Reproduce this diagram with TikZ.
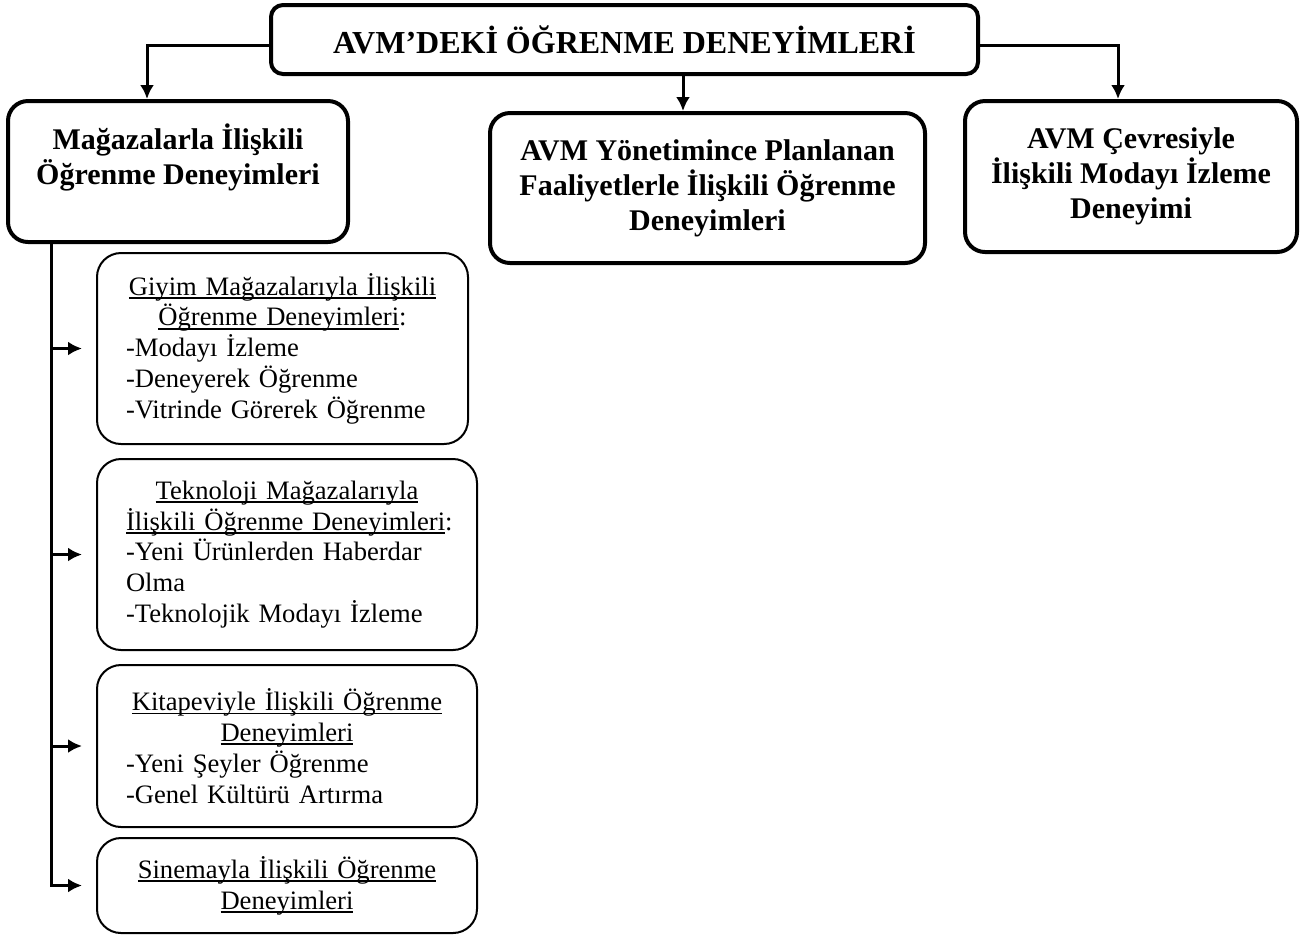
\documentclass[tikz,border=0pt]{standalone}
\usepackage{fontspec}
\setmainfont{Liberation Serif}
\usetikzlibrary{arrows.meta,positioning}
\newsavebox\ulbox
\newcommand{\undln}[1]{\leavevmode\sbox\ulbox{#1}\rlap{\rule[-1.9pt]{\wd\ulbox}{0.9pt}}\usebox\ulbox}

\begin{document}
\begin{tikzpicture}[
  x=0.5pt,
  y=-0.5pt,
  >=Latex,
  link/.style={
    line width=1.5pt,
    -{Latex[length=7pt,width=7pt]}
  },
  mainbox/.style={
    draw,
    line width=2pt,
    rounded corners=10pt,
    align=center,
    font=\bfseries\fontsize{15}{17.5}\selectfont
  },
  itembox/.style={
    draw,
    line width=1pt,
    rounded corners=12pt,
    align=left,
    inner xsep=14.5pt,
    inner ysep=0pt,
    text width=161pt,
    minimum height=#1,
    font=\fontsize{13.3}{15.4}\selectfont
  }
]
  \useasboundingbox (0,0) rectangle (1305,934);

  \node[draw,line width=2pt,rounded corners=6pt,minimum width=353.5pt,
    minimum height=34.5pt,font=\bfseries\fontsize{16}{19}\selectfont]
    (title) at (624.5,39.5) {AVM’DEKİ ÖĞRENME DENEYİMLERİ};

  \node[mainbox,minimum width=170pt,minimum height=70.5pt] (store) at (178,171.5)
    {Mağazalarla İlişkili\\Öğrenme Deneyimleri\\~};
  \node[mainbox,minimum width=217.5pt,minimum height=75pt] (mgmt) at (707.5,188)
    {AVM Yönetimince Planlanan\\Faaliyetlerle İlişkili Öğrenme\\Deneyimleri};
  \node[mainbox,minimum width=166pt,minimum height=75.5pt] (env) at (1131,176.5)
    {AVM Çevresiyle\\İlişkili Modayı İzleme\\Deneyimi};

  \node[itembox=95.5pt,text width=156.5pt] (giyim) at (282.5,348.5)
    {{\centering\undln{Giyim Mağazalarıyla İlişkili}\\\undln{Öğrenme Deneyimleri}:\par}
     -Modayı İzleme\\-Deneyerek Öğrenme\\-Vitrinde Görerek Öğrenme};
  \node[itembox=95.5pt] (tekno) at (287,554.5)
    {{\centering\undln{Teknoloji Mağazalarıyla}\\\undln{İlişkili Öğrenme Deneyimleri}:\par}
     -Yeni Ürünlerden Haberdar\\Olma\\-Teknolojik Modayı İzleme};
  \node[itembox=81pt] (kitap) at (287,746)
    {{\centering\undln{Kitapeviyle İlişkili Öğrenme}\\\undln{Deneyimleri}\par}
     -Yeni Şeyler Öğrenme\\-Genel Kültürü Artırma};
  \node[itembox=47.5pt] (sinema) at (287,885.5)
    {{\centering\undln{Sinemayla İlişkili Öğrenme}\\\undln{Deneyimleri}\par}};

  \draw[link] ([yshift=-3pt]title.west) -| ([xshift=-15.5pt]store.north);
  \draw[link] ([yshift=-3pt]title.east) -| ([xshift=-6.5pt]env.north);
  \draw[link] ([xshift=29.25pt]title.south) -- ([xshift=29.25pt]title.south |- mgmt.north);

  \coordinate (trunk) at ([xshift=-63.5pt]store.south);
  \draw[link,shorten >=7pt] (trunk) |- (sinema.west);
  \foreach \nd in {giyim,tekno,kitap}
    \draw[link,shorten >=7pt] (trunk |- \nd.west) -- (\nd.west);
\end{tikzpicture}
\end{document}
